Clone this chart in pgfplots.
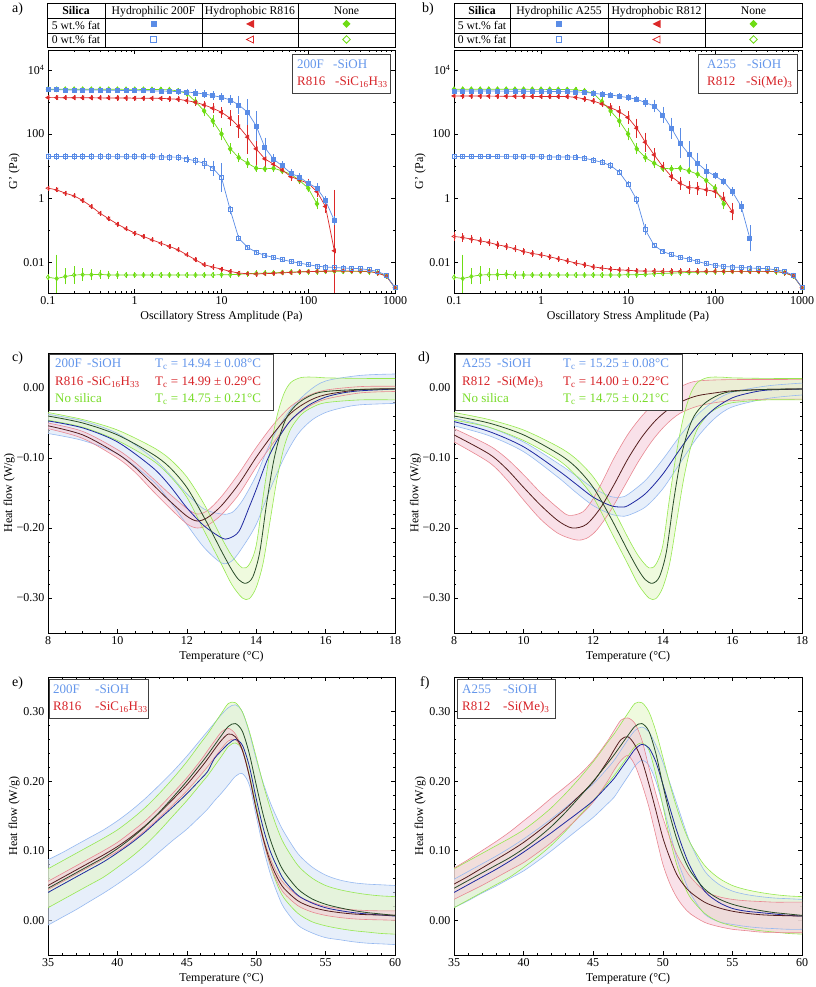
\documentclass[border=0pt]{standalone}
\usepackage{pgfplots}
\usepackage{pgfplotstable}
\pgfplotsset{compat=1.18}
\usepgfplotslibrary{fillbetween}
\usepackage{fontspec}
\setmainfont{Liberation Serif}
\definecolor{cblue}{RGB}{90,140,230}
\definecolor{cred}{RGB}{220,40,40}
\definecolor{cgreen}{RGB}{110,220,20}
\definecolor{tblue}{RGB}{100,150,235}
\definecolor{tred}{RGB}{215,35,40}
\definecolor{tgreen}{RGB}{120,220,40}
\definecolor{eblue}{RGB}{150,185,240}
\definecolor{ered}{RGB}{232,135,145}
\definecolor{egreen}{RGB}{150,232,80}
\definecolor{fblue}{RGB}{215,228,247}
\definecolor{fred}{RGB}{245,205,218}
\definecolor{fgreen}{RGB}{228,247,200}
\definecolor{mblue}{RGB}{30,40,160}
\definecolor{mred}{RGB}{85,30,30}
\definecolor{mgreen}{RGB}{40,75,40}
\newcommand\lf{\fontsize{13}{15}\selectfont}
\newcommand\tf{\fontsize{11.7}{14}\selectfont}

\pgfplotstableread{
x y e
0.1 2400 0.03
0.126 2400 0.03
0.158 2390 0.03
0.2 2380 0.03
0.251 2370 0.03
0.316 2360 0.03
0.398 2350 0.03
0.501 2330 0.03
0.631 2310 0.03
0.794 2290 0.03
1 2270 0.03
1.26 2250 0.03
1.58 2230 0.03
2 2200 0.03
2.51 2170 0.04
3.16 2110 0.05
3.98 2060 0.05
5.01 1930 0.06
6.31 1786 0.07
7.94 1585 0.08
10 1406 0.09
12.6 1161 0.10
15.8 811 0.23
20 479 0.36
25.1 180 0.42
31.6 38 0.26
39.8 16.4 0.12
50.1 10.2 0.10
63.1 6.0 0.08
79.4 4.5 0.08
100 2.94 0.06
126 2.05 0.10
158 0.846 0.08
200 0.20 0.10
}\BFa

\pgfplotstableread{
x y e
0.1 1374 0.03
0.126 1370 0.03
0.158 1365 0.03
0.2 1360 0.03
0.251 1355 0.03
0.316 1350 0.03
0.398 1345 0.03
0.501 1340 0.03
0.631 1335 0.03
0.794 1330 0.03
1 1320 0.03
1.26 1315 0.03
1.58 1310 0.03
2 1300 0.03
2.51 1260 0.04
3.16 1219 0.05
3.98 1107 0.05
5.01 982 0.06
6.31 811 0.08
7.94 638 0.10
10 479 0.12
12.6 312 0.20
15.8 171 0.31
20 80 0.47
25.1 34.5 0.45
31.6 16.8 0.20
39.8 11.5 0.10
50.1 7.6 0.08
63.1 4.7 0.08
79.4 3.7 0.08
100 2.9 0.10
126 1.6 0.12
158 0.55 0.15
200 0.0228 1.85
}\RFa

\pgfplotstableread{
x y e
0.1 2496 0.03
0.126 2496 0.03
0.158 2495 0.03
0.2 2495 0.03
0.251 2494 0.03
0.316 2493 0.03
0.398 2490 0.03
0.501 2488 0.03
0.631 2485 0.03
0.794 2482 0.03
1 2480 0.03
1.26 2470 0.03
1.58 2460 0.03
2 2440 0.03
2.51 2400 0.04
3.16 2213 0.05
3.98 1875 0.06
5.01 1030 0.08
6.31 527 0.12
7.94 257 0.15
10 101 0.15
12.6 34.5 0.12
15.8 18.5 0.10
20 12.3 0.10
25.1 8.6 0.06
31.6 8.2 0.06
39.8 8.6 0.06
50.1 7.1 0.06
63.1 5.6 0.06
79.4 3.56 0.06
100 2.05 0.08
126 0.665 0.12
}\GF

\pgfplotstableread{
x y e
0.1 19.9 0.06
0.126 19.9 0.06
0.158 19.9 0.06
0.2 19.9 0.06
0.251 19.9 0.06
0.316 19.8 0.06
0.398 19.8 0.06
0.501 19.8 0.06
0.631 19.7 0.06
0.794 19.7 0.06
1 19.6 0.06
1.26 19.6 0.06
1.58 19.5 0.06
2 19.4 0.06
2.51 19.2 0.06
3.16 19.0 0.06
3.98 16.8 0.07
5.01 14.6 0.08
6.31 12.3 0.12
7.94 8.6 0.18
10 4.4 0.39
12.6 0.432 0.08
15.8 0.0566 0.04
20 0.029 0.03
25.1 0.0207 0.03
31.6 0.0163 0.03
39.8 0.0142 0.03
50.1 0.012 0.03
63.1 0.0106 0.03
79.4 0.0094 0.03
100 0.0084 0.03
126 0.0076 0.03
158 0.0071 0.03
200 0.0069 0.03
251 0.0066 0.03
316 0.0065 0.03
398 0.0063 0.03
501 0.0058 0.03
631 0.0052 0.03
794 0.0039 0.03
1000 0.0016 0.03
}\BHa

\pgfplotstableread{
x y e
0.1 2.05 0.03
0.126 1.82 0.03
0.158 1.43 0.03
0.2 1.18 0.03
0.251 0.846 0.03
0.316 0.55 0.03
0.398 0.34 0.03
0.501 0.227 0.03
0.631 0.155 0.03
0.794 0.111 0.03
1 0.081 0.03
1.26 0.064 0.03
1.58 0.050 0.03
2 0.0395 0.03
2.51 0.0312 0.03
3.16 0.0245 0.03
3.98 0.0171 0.03
5.01 0.012 0.03
6.31 0.0084 0.03
7.94 0.0071 0.03
10 0.0061 0.03
12.6 0.0052 0.03
15.8 0.0046 0.03
20 0.0044 0.03
25.1 0.0043 0.03
31.6 0.0044 0.03
39.8 0.0045 0.03
50.1 0.0047 0.03
63.1 0.0048 0.03
79.4 0.0050 0.03
100 0.0051 0.03
126 0.0052 0.03
158 0.0053 0.03
200 0.0054 0.03
251 0.0054 0.03
316 0.0053 0.03
398 0.0053 0.03
501 0.0052 0.03
631 0.0046 0.03
794 0.0037 0.03
1000 0.0016 0.03
}\RHa

\pgfplotstableread{
x y e
0.1 0.0034 0.05
0.126 0.0031 0.7
0.158 0.0036 0.2
0.2 0.0040 0.22
0.251 0.0041 0.15
0.316 0.0041 0.12
0.398 0.0042 0.10
0.501 0.0040 0.08
0.631 0.0040 0.06
0.794 0.0040 0.05
1 0.0040 0.04
1.26 0.0040 0.04
1.58 0.0040 0.04
2 0.0040 0.04
2.51 0.0040 0.04
3.16 0.0040 0.04
3.98 0.0040 0.04
5.01 0.0040 0.04
6.31 0.0040 0.04
7.94 0.0040 0.04
10 0.0041 0.04
12.6 0.0041 0.04
15.8 0.0042 0.04
20 0.0044 0.04
25.1 0.0045 0.04
31.6 0.0046 0.04
39.8 0.0047 0.04
50.1 0.0048 0.04
63.1 0.0049 0.04
79.4 0.0050 0.04
100 0.0051 0.04
126 0.0051 0.04
158 0.0052 0.04
200 0.0052 0.04
251 0.0052 0.04
316 0.0052 0.04
398 0.0052 0.04
501 0.0051 0.04
631 0.0047 0.04
794 0.0037 0.04
1000 0.0016 0.04
}\GH

\pgfplotstableread{
x y e
0.1 2213 0.03
0.126 2210 0.03
0.158 2205 0.03
0.2 2200 0.03
0.251 2195 0.03
0.316 2190 0.03
0.398 2180 0.03
0.501 2170 0.03
0.631 2160 0.03
0.794 2155 0.03
1 2150 0.03
1.26 2140 0.03
1.58 2120 0.03
2 2100 0.03
2.51 2060 0.03
3.16 2012 0.04
3.98 1875 0.04
5.01 1746 0.05
6.31 1665 0.05
7.94 1512 0.05
10 1374 0.05
12.6 1219 0.05
15.8 960 0.08
20 755 0.15
25.1 396 0.20
31.6 152 0.28
39.8 51.8 0.42
50.1 23.5 0.36
63.1 12.3 0.28
79.4 7.1 0.18
100 4.97 0.06
126 3.3 0.06
158 1.6 0.10
200 0.55 0.12
251 0.0566 0.36
}\BFb

\pgfplotstableread{
x y e
0.1 1548 0.03
0.126 1545 0.03
0.158 1540 0.03
0.2 1535 0.03
0.251 1530 0.03
0.316 1525 0.03
0.398 1520 0.03
0.501 1512 0.03
0.631 1505 0.03
0.794 1498 0.03
1 1490 0.03
1.26 1485 0.03
1.58 1480 0.03
2 1476 0.03
2.51 1400 0.04
3.16 1248 0.04
3.98 1081 0.05
5.01 871 0.05
6.31 670 0.08
7.94 503 0.12
10 327 0.15
12.6 152 0.25
15.8 55.6 0.25
20 22.4 0.15
25.1 9.7 0.10
31.6 4.7 0.10
39.8 2.94 0.15
50.1 2.15 0.15
63.1 2.05 0.15
79.4 1.82 0.15
100 1.61 0.15
126 0.95 0.18
158 0.38 0.22
}\RFb

\pgfplotstableread{
x y e
0.1 19.9 0.04
0.126 19.9 0.04
0.158 19.9 0.04
0.2 19.9 0.04
0.251 19.9 0.04
0.316 19.8 0.04
0.398 19.8 0.04
0.501 19.7 0.04
0.631 19.7 0.04
0.794 19.6 0.04
1 19.5 0.04
1.26 19.4 0.04
1.58 19.3 0.04
2 19.2 0.04
2.51 19.0 0.04
3.16 17.7 0.04
3.98 15.3 0.04
5.01 13.2 0.04
6.31 10.4 0.05
7.94 6.45 0.05
10 2.73 0.05
12.6 0.887 0.08
15.8 0.103 0.12
20 0.0335 0.04
25.1 0.0218 0.03
31.6 0.0171 0.03
39.8 0.0142 0.03
50.1 0.0126 0.03
63.1 0.0106 0.03
79.4 0.009 0.03
100 0.008 0.03
126 0.0074 0.03
158 0.0071 0.03
200 0.0069 0.03
251 0.0066 0.03
316 0.0065 0.03
398 0.0063 0.03
501 0.0058 0.03
631 0.0052 0.03
794 0.0039 0.03
1000 0.0016 0.03
}\BHb

\pgfplotstableread{
x y e
0.1 0.0639 0.08
0.126 0.0594 0.08
0.158 0.0528 0.08
0.2 0.0468 0.08
0.251 0.0415 0.07
0.316 0.0351 0.07
0.398 0.0312 0.07
0.501 0.0264 0.06
0.631 0.0218 0.06
0.794 0.0188 0.05
1 0.0171 0.05
1.26 0.0148 0.05
1.58 0.0128 0.04
2 0.0111 0.04
2.51 0.0094 0.04
3.16 0.0084 0.04
3.98 0.0072 0.04
5.01 0.0066 0.04
6.31 0.0061 0.04
7.94 0.0058 0.04
10 0.0056 0.04
12.6 0.0054 0.04
15.8 0.0053 0.04
20 0.0053 0.04
25.1 0.0052 0.04
31.6 0.0052 0.04
39.8 0.0052 0.04
50.1 0.0052 0.04
63.1 0.0052 0.04
79.4 0.0052 0.04
100 0.0052 0.04
126 0.0052 0.04
158 0.0052 0.04
200 0.0052 0.04
251 0.0052 0.04
316 0.0052 0.04
398 0.0052 0.04
501 0.0052 0.04
631 0.0047 0.04
794 0.0038 0.04
1000 0.0016 0.04
}\RHb

\pgfplotsset{
  every axis/.append style={
    tick label style={font=\fontsize{12}{14}\selectfont},
    label style={font=\fontsize{12}{14}\selectfont},
    axis line style={line width=0.7pt},
    major tick length=4pt, minor tick length=2pt,
    tick style={line width=0.5pt, black},
  },
}
\newcommand\EP{\thisrow{y}*(10^(\thisrow{e})-1)}
\newcommand\EM{\thisrow{y}*(1-10^(-\thisrow{e}))}

\begin{document}
\begin{tikzpicture}[x=1pt,y=1pt]
\path (0,0) rectangle (815,987);

% ---------- a ----------
\begin{axis}[at={(48pt,694pt)}, anchor=south west, scale only axis, width=347pt, height=243pt,
    xmode=log, ymode=log, xmin=0.1, xmax=1000, ymin=0.0011, ymax=42000,
    xtick={0.1,1,10,100,1000}, xticklabels={0.1,1,10,100,1000},
    ytick={0.01,1,100,10000}, yticklabels={0.01,1,100,10\textsuperscript{4}},
    minor ytick={0.001,0.1,10,1000},
    xlabel={Oscillatory Stress Amplitude (Pa)}, ylabel={G' (Pa)}, ylabel shift=-3pt,
    error bars/y dir=both, error bars/y explicit,
    error bars/error bar style={line width=0.5pt},
    error bars/error mark options={mark size=1.6pt, line width=0.5pt}]
\addplot[color=cgreen, line width=0.7pt, mark size=2.2pt, mark=diamond, mark options={fill=white}] table[x=x,y=y,y error plus expr=\EP,y error minus expr=\EM] {\GH};
\addplot[color=cred, line width=0.7pt, mark size=2pt, mark=triangle, mark options={rotate=90, fill=white}] table[x=x,y=y,y error plus expr=\EP,y error minus expr=\EM] {\RHa};
\addplot[color=cblue, line width=0.7pt, mark size=2pt, mark=square, mark options={fill=white}] table[x=x,y=y,y error plus expr=\EP,y error minus expr=\EM] {\BHa};
\addplot[color=cgreen, line width=0.7pt, mark size=2.5pt, mark=diamond*] table[x=x,y=y,y error plus expr=\EP,y error minus expr=\EM] {\GF};
\addplot[color=cred, line width=0.7pt, mark size=2.2pt, mark=triangle*, mark options={rotate=90}] table[x=x,y=y,y error plus expr=\EP,y error minus expr=\EM] {\RFa};
\addplot[color=cblue, line width=0.7pt, mark size=2pt, mark=square*] table[x=x,y=y,y error plus expr=\EP,y error minus expr=\EM] {\BFa};
\end{axis}

% ---------- b ----------
\begin{axis}[at={(454pt,694pt)}, anchor=south west, scale only axis, width=348pt, height=243pt,
    xmode=log, ymode=log, xmin=0.1, xmax=1000, ymin=0.0011, ymax=42000,
    xtick={0.1,1,10,100,1000}, xticklabels={0.1,1,10,100,1000},
    ytick={0.01,1,100,10000}, yticklabels={0.01,1,100,10\textsuperscript{4}},
    minor ytick={0.001,0.1,10,1000},
    xlabel={Oscillatory Stress Amplitude (Pa)}, ylabel={G' (Pa)}, ylabel shift=-3pt,
    error bars/y dir=both, error bars/y explicit,
    error bars/error bar style={line width=0.5pt},
    error bars/error mark options={mark size=1.6pt, line width=0.5pt}]
\addplot[color=cgreen, line width=0.7pt, mark size=2.2pt, mark=diamond, mark options={fill=white}] table[x=x,y=y,y error plus expr=\EP,y error minus expr=\EM] {\GH};
\addplot[color=cred, line width=0.7pt, mark size=2pt, mark=triangle, mark options={rotate=90, fill=white}] table[x=x,y=y,y error plus expr=\EP,y error minus expr=\EM] {\RHb};
\addplot[color=cblue, line width=0.7pt, mark size=2pt, mark=square, mark options={fill=white}] table[x=x,y=y,y error plus expr=\EP,y error minus expr=\EM] {\BHb};
\addplot[color=cgreen, line width=0.7pt, mark size=2.5pt, mark=diamond*] table[x=x,y=y,y error plus expr=\EP,y error minus expr=\EM] {\GF};
\addplot[color=cred, line width=0.7pt, mark size=2.2pt, mark=triangle*, mark options={rotate=90}] table[x=x,y=y,y error plus expr=\EP,y error minus expr=\EM] {\RFb};
\addplot[color=cblue, line width=0.7pt, mark size=2pt, mark=square*] table[x=x,y=y,y error plus expr=\EP,y error minus expr=\EM] {\BFb};
\end{axis}

% ---------- c ----------
\begin{axis}[at={(48pt,354pt)}, anchor=south west, scale only axis, width=347pt, height=280pt,
    xmin=8, xmax=18, ymin=-0.35, ymax=0.05,
    xtick={8,10,12,14,16,18}, xticklabels={8,10,12,14,16,18},
    ytick={-0.3,-0.2,-0.1,0}, yticklabels={−0.30,−0.20,−0.10,0.00},
    minor x tick num=3, minor y tick num=4,
    xlabel={Temperature (°C)}, ylabel={Heat flow (W/g)}, ylabel shift=-5pt]
\addplot[color=eblue, line width=0.6pt, smooth, tension=0.5, name path=cbu] coordinates {(8,-0.0375) (9,-0.047) (10,-0.065) (11,-0.099) (11.5,-0.123) (12,-0.151) (12.5,-0.173) (13,-0.180) (13.3,-0.178) (13.6,-0.161) (14,-0.125) (14.3,-0.090) (14.6,-0.060) (15,-0.030) (15.5,-0.005) (16,0.010) (17,0.018) (18,0.020)};
\addplot[color=eblue, line width=0.6pt, smooth, tension=0.5, name path=cbl] coordinates {(8,-0.065) (9,-0.075) (10,-0.094) (11,-0.132) (11.5,-0.161) (12,-0.195) (12.5,-0.228) (13,-0.250) (13.3,-0.247) (13.6,-0.228) (14,-0.195) (14.4,-0.145) (14.8,-0.100) (15.2,-0.066) (15.6,-0.046) (16,-0.035) (16.5,-0.028) (17,-0.024) (18,-0.022)};
\addplot[fill=fblue, fill opacity=0.6, draw=none] fill between[of=cbu and cbl];
\addplot[color=ered, line width=0.6pt, smooth, tension=0.5, name path=cru] coordinates {(8,-0.050) (9,-0.062) (10,-0.088) (10.5,-0.106) (11,-0.128) (11.5,-0.151) (12,-0.172) (12.3,-0.180) (12.6,-0.175) (13,-0.155) (13.5,-0.122) (14,-0.085) (14.5,-0.052) (15,-0.026) (15.5,-0.011) (16,-0.003) (17,0.002) (18,0.0025)};
\addplot[color=ered, line width=0.6pt, smooth, tension=0.5, name path=crl] coordinates {(8,-0.058) (9,-0.072) (10,-0.100) (10.5,-0.120) (11,-0.146) (11.5,-0.171) (12,-0.194) (12.3,-0.200) (12.6,-0.196) (13,-0.181) (13.5,-0.152) (14,-0.113) (14.5,-0.078) (15,-0.046) (15.5,-0.027) (16,-0.016) (17,-0.007) (18,-0.005)};
\addplot[fill=fred, fill opacity=0.6, draw=none] fill between[of=cru and crl];
\addplot[color=egreen, line width=0.6pt, smooth, tension=0.5, name path=cgu] coordinates {(8,-0.035) (9,-0.045) (10,-0.060) (11,-0.084) (11.5,-0.101) (12,-0.127) (12.5,-0.166) (13,-0.214) (13.3,-0.240) (13.6,-0.257) (13.8,-0.252) (14,-0.225) (14.2,-0.155) (14.4,-0.090) (14.6,-0.040) (14.8,-0.008) (15,0.008) (15.3,0.015) (15.7,0.0155) (16,0.0145) (17,0.0137) (18,0.0135)};
\addplot[color=egreen, line width=0.6pt, smooth, tension=0.5, name path=cgl] coordinates {(8,-0.046) (9,-0.056) (10,-0.075) (11,-0.103) (11.5,-0.125) (12,-0.156) (12.5,-0.204) (13,-0.252) (13.3,-0.281) (13.6,-0.300) (13.8,-0.301) (14,-0.285) (14.2,-0.250) (14.4,-0.190) (14.6,-0.130) (14.8,-0.085) (15,-0.058) (15.3,-0.038) (15.6,-0.028) (16,-0.021) (17,-0.017) (18,-0.017)};
\addplot[fill=fgreen, fill opacity=0.6, draw=none] fill between[of=cgu and cgl];
\addplot[color=mblue, line width=0.8pt, smooth, tension=0.5] coordinates {(8,-0.047) (9,-0.057) (10,-0.077) (11,-0.113) (11.5,-0.139) (12,-0.171) (12.5,-0.197) (13,-0.214) (13.2,-0.215) (13.5,-0.205) (13.8,-0.170) (14,-0.145) (14.3,-0.105) (14.6,-0.075) (15,-0.046) (15.5,-0.025) (16,-0.013) (16.5,-0.007) (17,-0.004) (18,-0.0015)};
\addplot[color=mred, line width=0.8pt, smooth, tension=0.5] coordinates {(8,-0.054) (9,-0.067) (10,-0.094) (10.5,-0.113) (11,-0.137) (11.5,-0.161) (12,-0.183) (12.3,-0.190) (12.6,-0.185) (13,-0.168) (13.5,-0.137) (14,-0.099) (14.5,-0.065) (15,-0.036) (15.5,-0.019) (16,-0.0096) (17,-0.0024) (18,-0.001)};
\addplot[color=mgreen, line width=0.8pt, smooth, tension=0.5] coordinates {(8,-0.040) (9,-0.050) (10,-0.067) (11,-0.094) (11.5,-0.113) (12,-0.142) (12.5,-0.185) (13,-0.233) (13.3,-0.260) (13.5,-0.274) (13.7,-0.279) (13.9,-0.270) (14.1,-0.235) (14.3,-0.165) (14.5,-0.105) (14.7,-0.065) (14.9,-0.040) (15.2,-0.022) (15.6,-0.010) (16,-0.005) (17,-0.002) (18,-0.0015)};
\end{axis}

% ---------- d ----------
\begin{axis}[at={(454pt,354pt)}, anchor=south west, scale only axis, width=348pt, height=280pt,
    xmin=8, xmax=18, ymin=-0.35, ymax=0.05,
    xtick={8,10,12,14,16,18}, xticklabels={8,10,12,14,16,18},
    ytick={-0.3,-0.2,-0.1,0}, yticklabels={−0.30,−0.20,−0.10,0.00},
    minor x tick num=3, minor y tick num=4,
    xlabel={Temperature (°C)}, ylabel={Heat flow (W/g)}, ylabel shift=-5pt]
\addplot[color=eblue, line width=0.6pt, smooth, tension=0.5, name path=dbu] coordinates {(8,-0.043) (9,-0.056) (10,-0.077) (11,-0.108) (11.5,-0.125) (12,-0.143) (12.5,-0.155) (12.8,-0.156) (13,-0.152) (13.5,-0.132) (14,-0.102) (14.5,-0.068) (15,-0.038) (15.5,-0.018) (16,-0.006) (17,0.003) (18,0.007)};
\addplot[color=eblue, line width=0.6pt, smooth, tension=0.5, name path=dbl] coordinates {(8,-0.054) (9,-0.068) (10,-0.091) (11,-0.128) (11.5,-0.149) (12,-0.168) (12.5,-0.180) (12.8,-0.183) (13,-0.182) (13.5,-0.170) (14,-0.144) (14.5,-0.107) (15,-0.070) (15.5,-0.043) (16,-0.027) (17,-0.015) (18,-0.010)};
\addplot[fill=fblue, fill opacity=0.6, draw=none] fill between[of=dbu and dbl];
\addplot[color=ered, line width=0.6pt, smooth, tension=0.5, name path=dru] coordinates {(8,-0.058) (9,-0.082) (9.5,-0.100) (10,-0.124) (10.5,-0.150) (11,-0.172) (11.3,-0.182) (11.7,-0.177) (12,-0.158) (12.3,-0.130) (12.6,-0.100) (13,-0.066) (13.4,-0.040) (13.8,-0.020) (14.2,-0.006) (14.6,0.004) (15,0.010) (16,0.012) (18,0.012)};
\addplot[color=ered, line width=0.6pt, smooth, tension=0.5, name path=drl] coordinates {(8,-0.077) (9,-0.106) (9.5,-0.130) (10,-0.160) (10.5,-0.188) (11,-0.208) (11.5,-0.217) (11.8,-0.215) (12.1,-0.203) (12.5,-0.175) (12.9,-0.140) (13.3,-0.105) (13.7,-0.075) (14.1,-0.052) (14.5,-0.036) (15,-0.026) (15.5,-0.021) (16,-0.018) (17,-0.016) (18,-0.016)};
\addplot[fill=fred, fill opacity=0.6, draw=none] fill between[of=dru and drl];
\addplot[color=egreen, line width=0.6pt, smooth, tension=0.5, name path=dgu] coordinates {(8,-0.035) (9,-0.045) (10,-0.060) (11,-0.084) (11.5,-0.101) (12,-0.127) (12.5,-0.166) (13,-0.214) (13.3,-0.240) (13.6,-0.257) (13.8,-0.252) (14,-0.225) (14.2,-0.155) (14.4,-0.090) (14.6,-0.040) (14.8,-0.008) (15,0.008) (15.3,0.015) (15.7,0.0155) (16,0.0145) (17,0.0137) (18,0.0135)};
\addplot[color=egreen, line width=0.6pt, smooth, tension=0.5, name path=dgl] coordinates {(8,-0.046) (9,-0.056) (10,-0.075) (11,-0.103) (11.5,-0.125) (12,-0.156) (12.5,-0.204) (13,-0.252) (13.3,-0.281) (13.6,-0.300) (13.8,-0.301) (14,-0.285) (14.2,-0.250) (14.4,-0.190) (14.6,-0.130) (14.8,-0.085) (15,-0.058) (15.3,-0.038) (15.6,-0.028) (16,-0.021) (17,-0.017) (18,-0.017)};
\addplot[fill=fgreen, fill opacity=0.6, draw=none] fill between[of=dgu and dgl];
\addplot[color=mblue, line width=0.8pt, smooth, tension=0.5] coordinates {(8,-0.048) (9,-0.062) (10,-0.084) (11,-0.118) (11.5,-0.137) (12,-0.156) (12.5,-0.168) (12.8,-0.170) (13,-0.168) (13.5,-0.151) (14,-0.123) (14.5,-0.087) (15,-0.053) (15.5,-0.029) (16,-0.014) (16.5,-0.007) (17,-0.003) (18,-0.0015)};
\addplot[color=mred, line width=0.8pt, smooth, tension=0.5] coordinates {(8,-0.067) (9,-0.094) (9.5,-0.115) (10,-0.142) (10.5,-0.168) (11,-0.190) (11.4,-0.200) (11.8,-0.195) (12.2,-0.172) (12.6,-0.138) (13,-0.101) (13.4,-0.070) (13.8,-0.046) (14.2,-0.029) (14.6,-0.018) (15,-0.011) (15.5,-0.007) (16,-0.004) (17,-0.002) (18,-0.0015)};
\addplot[color=mgreen, line width=0.8pt, smooth, tension=0.5] coordinates {(8,-0.040) (9,-0.050) (10,-0.067) (11,-0.094) (11.5,-0.113) (12,-0.142) (12.5,-0.185) (13,-0.233) (13.3,-0.260) (13.5,-0.274) (13.7,-0.279) (13.9,-0.270) (14.1,-0.235) (14.3,-0.165) (14.5,-0.105) (14.7,-0.065) (14.9,-0.040) (15.2,-0.022) (15.6,-0.010) (16,-0.005) (17,-0.002) (18,-0.0015)};
\end{axis}

% ---------- e ----------
\begin{axis}[at={(48pt,32pt)}, anchor=south west, scale only axis, width=347pt, height=278pt,
    xmin=35, xmax=60, ymin=-0.05, ymax=0.35,
    xtick={35,40,45,50,55,60}, xticklabels={35,40,45,50,55,60},
    ytick={0,0.1,0.2,0.3}, yticklabels={0.00,0.10,0.20,0.30},
    minor x tick num=4, minor y tick num=4,
    xlabel={Temperature (°C)}, ylabel={Heat flow (W/g)}, ylabel shift=-3pt]
\addplot[color=eblue, line width=0.6pt, smooth, tension=0.5, name path=ebu] coordinates {(35,0.087) (36,0.097) (37,0.108) (38,0.119) (39,0.130) (40,0.143) (41,0.158) (42,0.175) (43,0.194) (44,0.214) (45,0.236) (46,0.260) (46.5,0.272) (47,0.284) (47.5,0.296) (48,0.306) (48.5,0.310) (49,0.300) (49.5,0.270) (50,0.232) (50.5,0.198) (51,0.170) (51.5,0.147) (52,0.127) (53,0.096) (54,0.077) (55,0.065) (56,0.058) (57,0.054) (58,0.052) (59,0.051) (60,0.050)};
\addplot[color=eblue, line width=0.6pt, smooth, tension=0.5, name path=ebl] coordinates {(35,-0.007) (36,0.004) (37,0.015) (38,0.027) (39,0.039) (40,0.052) (41,0.066) (42,0.081) (43,0.098) (44,0.115) (45,0.131) (46,0.150) (46.5,0.160) (47,0.172) (47.5,0.183) (48,0.195) (48.5,0.207) (49,0.211) (49.5,0.195) (50,0.150) (50.5,0.105) (51,0.068) (51.5,0.040) (52,0.018) (53,-0.007) (54,-0.018) (55,-0.025) (56,-0.028) (57,-0.031) (58,-0.033) (59,-0.034) (60,-0.035)};
\addplot[fill=fblue, fill opacity=0.6, draw=none] fill between[of=ebu and ebl];
\addplot[color=egreen, line width=0.6pt, smooth, tension=0.5, name path=egu] coordinates {(35,0.074) (36,0.085) (37,0.096) (38,0.107) (39,0.118) (40,0.130) (41,0.145) (42,0.162) (43,0.182) (44,0.204) (45,0.228) (46,0.255) (46.5,0.268) (47,0.283) (47.5,0.298) (48,0.312) (48.5,0.313) (49,0.300) (49.5,0.272) (50,0.235) (50.5,0.196) (51,0.162) (51.5,0.133) (52,0.110) (53,0.079) (54,0.061) (55,0.050) (56,0.044) (57,0.040) (58,0.037) (59,0.035) (60,0.034)};
\addplot[color=egreen, line width=0.6pt, smooth, tension=0.5, name path=egl] coordinates {(35,0.018) (36,0.029) (37,0.040) (38,0.051) (39,0.062) (40,0.076) (41,0.091) (42,0.108) (43,0.128) (44,0.150) (45,0.172) (46,0.196) (46.5,0.208) (47,0.222) (47.5,0.236) (48,0.250) (48.5,0.255) (49,0.245) (49.5,0.210) (50,0.165) (50.5,0.118) (51,0.080) (51.5,0.052) (52,0.032) (53,0.010) (54,-0.002) (55,-0.008) (56,-0.012) (57,-0.015) (58,-0.017) (59,-0.019) (60,-0.020)};
\addplot[fill=fgreen, fill opacity=0.6, draw=none] fill between[of=egu and egl];
\addplot[color=ered, line width=0.6pt, smooth, tension=0.5, name path=eru] coordinates {(35,0.056) (36,0.067) (37,0.078) (38,0.089) (39,0.100) (40,0.112) (41,0.127) (42,0.143) (43,0.162) (44,0.183) (45,0.205) (46,0.230) (46.5,0.244) (47,0.258) (47.5,0.271) (48,0.276) (48.5,0.268) (49,0.246) (49.5,0.207) (50,0.160) (50.5,0.120) (51,0.090) (51.5,0.068) (52,0.053) (53,0.035) (54,0.026) (55,0.020) (56,0.017) (57,0.015) (58,0.014) (59,0.0135) (60,0.0135)};
\addplot[color=ered, line width=0.6pt, smooth, tension=0.5, name path=erl] coordinates {(35,0.044) (36,0.055) (37,0.066) (38,0.077) (39,0.088) (40,0.099) (41,0.113) (42,0.129) (43,0.147) (44,0.166) (45,0.186) (46,0.209) (46.5,0.221) (47,0.234) (47.5,0.247) (48,0.258) (48.5,0.260) (49,0.244) (49.5,0.208) (50,0.159) (50.5,0.115) (51,0.080) (51.5,0.056) (52,0.039) (53,0.021) (54,0.012) (55,0.007) (56,0.004) (57,0.002) (58,0.001) (59,0.0005) (60,0.000)};
\addplot[fill=fred, fill opacity=0.6, draw=none] fill between[of=eru and erl];
\addplot[color=mblue, line width=0.8pt, smooth, tension=0.5] coordinates {(35,0.040) (36,0.051) (37,0.062) (38,0.073) (39,0.084) (40,0.097) (41,0.111) (42,0.127) (43,0.145) (44,0.163) (45,0.182) (46,0.203) (46.5,0.214) (47,0.233) (47.5,0.244) (48,0.254) (48.5,0.260) (49,0.252) (49.5,0.222) (50,0.175) (50.5,0.133) (51,0.100) (51.5,0.077) (52,0.058) (53,0.036) (54,0.025) (55,0.018) (56,0.014) (57,0.011) (58,0.009) (59,0.0075) (60,0.006)};
\addplot[color=mred, line width=0.8pt, smooth, tension=0.5] coordinates {(35,0.050) (36,0.061) (37,0.072) (38,0.083) (39,0.094) (40,0.106) (41,0.120) (42,0.136) (43,0.154) (44,0.174) (45,0.195) (46,0.219) (46.5,0.232) (47,0.246) (47.5,0.259) (48,0.268) (48.5,0.264) (49,0.245) (49.5,0.208) (50,0.160) (50.5,0.118) (51,0.085) (51.5,0.062) (52,0.046) (53,0.028) (54,0.019) (55,0.014) (56,0.011) (57,0.009) (58,0.008) (59,0.0075) (60,0.007)};
\addplot[color=mgreen, line width=0.8pt, smooth, tension=0.5] coordinates {(35,0.046) (36,0.057) (37,0.068) (38,0.079) (39,0.090) (40,0.103) (41,0.118) (42,0.135) (43,0.155) (44,0.177) (45,0.200) (46,0.225) (46.5,0.238) (47,0.252) (47.5,0.266) (48,0.279) (48.5,0.283) (49,0.272) (49.5,0.240) (50,0.195) (50.5,0.152) (51,0.117) (51.5,0.090) (52,0.070) (53,0.045) (54,0.031) (55,0.023) (56,0.018) (57,0.014) (58,0.011) (59,0.009) (60,0.007)};
\end{axis}

% ---------- f ----------
\begin{axis}[at={(454pt,32pt)}, anchor=south west, scale only axis, width=348pt, height=278pt,
    xmin=35, xmax=60, ymin=-0.05, ymax=0.35,
    xtick={35,40,45,50,55,60}, xticklabels={35,40,45,50,55,60},
    ytick={0,0.1,0.2,0.3}, yticklabels={0.00,0.10,0.20,0.30},
    minor x tick num=4, minor y tick num=4,
    xlabel={Temperature (°C)}, ylabel={Heat flow (W/g)}, ylabel shift=-3pt]
\addplot[color=eblue, line width=0.6pt, smooth, tension=0.5, name path=fbu] coordinates {(35,0.059) (36,0.070) (37,0.081) (38,0.092) (39,0.104) (40,0.117) (41,0.131) (42,0.146) (43,0.162) (44,0.179) (45,0.196) (46,0.218) (46.5,0.230) (47,0.245) (47.5,0.260) (48,0.273) (48.5,0.278) (49,0.271) (49.5,0.252) (50,0.228) (50.5,0.198) (51,0.168) (51.5,0.138) (52,0.110) (53,0.071) (54,0.052) (55,0.042) (56,0.037) (57,0.034) (58,0.032) (59,0.031) (60,0.030)};
\addplot[color=eblue, line width=0.6pt, smooth, tension=0.5, name path=fbl] coordinates {(35,0.018) (36,0.028) (37,0.039) (38,0.049) (39,0.060) (40,0.071) (41,0.085) (42,0.100) (43,0.116) (44,0.132) (45,0.148) (46,0.167) (46.5,0.177) (47,0.192) (47.5,0.207) (48,0.222) (48.5,0.230) (49,0.223) (49.5,0.200) (50,0.166) (50.5,0.128) (51,0.090) (51.5,0.062) (52,0.038) (53,0.009) (54,-0.002) (55,-0.006) (56,-0.009) (57,-0.011) (58,-0.012) (59,-0.013) (60,-0.013)};
\addplot[fill=fblue, fill opacity=0.6, draw=none] fill between[of=fbu and fbl];
\addplot[color=egreen, line width=0.6pt, smooth, tension=0.5, name path=fgu] coordinates {(35,0.074) (36,0.085) (37,0.096) (38,0.107) (39,0.118) (40,0.130) (41,0.145) (42,0.162) (43,0.182) (44,0.204) (45,0.228) (46,0.255) (46.5,0.268) (47,0.283) (47.5,0.298) (48,0.312) (48.5,0.313) (49,0.300) (49.5,0.272) (50,0.235) (50.5,0.196) (51,0.162) (51.5,0.133) (52,0.110) (53,0.079) (54,0.061) (55,0.050) (56,0.044) (57,0.040) (58,0.037) (59,0.035) (60,0.034)};
\addplot[color=egreen, line width=0.6pt, smooth, tension=0.5, name path=fgl] coordinates {(35,0.018) (36,0.029) (37,0.040) (38,0.051) (39,0.062) (40,0.076) (41,0.091) (42,0.108) (43,0.128) (44,0.150) (45,0.172) (46,0.196) (46.5,0.208) (47,0.222) (47.5,0.236) (48,0.250) (48.5,0.255) (49,0.245) (49.5,0.210) (50,0.165) (50.5,0.118) (51,0.080) (51.5,0.052) (52,0.032) (53,0.010) (54,-0.002) (55,-0.008) (56,-0.012) (57,-0.015) (58,-0.017) (59,-0.019) (60,-0.020)};
\addplot[fill=fgreen, fill opacity=0.6, draw=none] fill between[of=fgu and fgl];
\addplot[color=ered, line width=0.6pt, smooth, tension=0.5, name path=fru] coordinates {(35,0.075) (36,0.087) (37,0.100) (38,0.113) (39,0.127) (40,0.143) (41,0.159) (42,0.176) (43,0.192) (44,0.209) (45,0.230) (46,0.257) (46.5,0.273) (47,0.288) (47.5,0.291) (48,0.283) (48.5,0.259) (49,0.220) (49.5,0.182) (50,0.148) (50.5,0.119) (51,0.095) (51.5,0.077) (52,0.062) (53,0.042) (54,0.034) (55,0.030) (56,0.028) (57,0.027) (58,0.026) (59,0.026) (60,0.026)};
\addplot[color=ered, line width=0.6pt, smooth, tension=0.5, name path=frl] coordinates {(35,0.030) (36,0.040) (37,0.050) (38,0.061) (39,0.072) (40,0.083) (41,0.097) (42,0.112) (43,0.130) (44,0.149) (45,0.170) (46,0.199) (46.5,0.216) (47,0.230) (47.5,0.237) (48,0.223) (48.5,0.196) (49,0.163) (49.5,0.122) (50,0.081) (50.5,0.053) (51,0.033) (51.5,0.019) (52,0.009) (53,-0.003) (54,-0.009) (55,-0.013) (56,-0.015) (57,-0.017) (58,-0.0175) (59,-0.018) (60,-0.018)};
\addplot[fill=fred, fill opacity=0.6, draw=none] fill between[of=fru and frl];
\addplot[color=mblue, line width=0.8pt, smooth, tension=0.5] coordinates {(35,0.040) (36,0.051) (37,0.062) (38,0.073) (39,0.085) (40,0.098) (41,0.112) (42,0.126) (43,0.141) (44,0.156) (45,0.172) (46,0.193) (46.5,0.204) (47,0.218) (47.5,0.232) (48,0.246) (48.5,0.253) (49,0.248) (49.5,0.228) (50,0.196) (50.5,0.162) (51,0.129) (51.5,0.100) (52,0.076) (53,0.042) (54,0.026) (55,0.017) (56,0.013) (57,0.011) (58,0.009) (59,0.007) (60,0.006)};
\addplot[color=mred, line width=0.8pt, smooth, tension=0.5] coordinates {(35,0.052) (36,0.063) (37,0.075) (38,0.087) (39,0.099) (40,0.112) (41,0.127) (42,0.143) (43,0.160) (44,0.179) (45,0.199) (46,0.228) (46.5,0.245) (47,0.260) (47.5,0.264) (48,0.252) (48.5,0.230) (49,0.196) (49.5,0.158) (50,0.119) (50.5,0.090) (51,0.066) (51.5,0.051) (52,0.040) (53,0.026) (54,0.018) (55,0.013) (56,0.010) (57,0.008) (58,0.007) (59,0.0065) (60,0.006)};
\addplot[color=mgreen, line width=0.8pt, smooth, tension=0.5] coordinates {(35,0.046) (36,0.057) (37,0.068) (38,0.079) (39,0.090) (40,0.103) (41,0.118) (42,0.135) (43,0.155) (44,0.177) (45,0.200) (46,0.225) (46.5,0.238) (47,0.252) (47.5,0.266) (48,0.279) (48.5,0.283) (49,0.272) (49.5,0.240) (50,0.195) (50.5,0.152) (51,0.117) (51.5,0.090) (52,0.070) (53,0.045) (54,0.031) (55,0.023) (56,0.018) (57,0.014) (58,0.011) (59,0.009) (60,0.007)};
\end{axis}

% ---------- tables ----------
\foreach \L/\A/\B/\C/\R/\ta/\tb in {47/105/202/298/395/Hydrophilic 200F/Hydrophobic R816, 454/510/608/705/802/Hydrophilic A255/Hydrophobic R812}{
  \draw[line width=0.9pt] (\L,984) rectangle (\R,940);
  \draw[line width=0.6pt] (\L,969) -- (\R,969) (\L,954) -- (\R,954) (\A,984) -- (\A,940) (\B,984) -- (\B,940) (\C,984) -- (\C,940);
  \node[anchor=base, font=\tf\bfseries, inner sep=0] at ({(\L+\A)/2},972.7) {Silica};
  \node[anchor=base, font=\tf, inner sep=0] at ({(\A+\B)/2},972.7) {\ta};
  \node[anchor=base, font=\tf, inner sep=0] at ({(\B+\C)/2},972.7) {\tb};
  \node[anchor=base, font=\tf, inner sep=0] at ({(\C+\R)/2},972.7) {None};
  \node[anchor=base, font=\tf, inner sep=0] at ({(\L+\A)/2},957.8) {5 wt.\% fat};
  \node[anchor=base, font=\tf, inner sep=0] at ({(\L+\A)/2},943.2) {0 wt.\% fat};
  \fill[cblue] ({(\A+\B)/2-3},960) rectangle ({(\A+\B)/2+3},966);
  \draw[cblue, line width=0.8pt] ({(\A+\B)/2-2.7},944.8) rectangle ({(\A+\B)/2+2.7},950.2);
  \fill[cred] ({(\B+\C)/2-4},963) -- ({(\B+\C)/2+4},967) -- ({(\B+\C)/2+4},959) -- cycle;
  \draw[cred, line width=0.8pt] ({(\B+\C)/2-3.5},947.5) -- ({(\B+\C)/2+3.5},951) -- ({(\B+\C)/2+3.5},944) -- cycle;
  \fill[cgreen] ({(\C+\R)/2},967) -- ({(\C+\R)/2+4},963) -- ({(\C+\R)/2},959) -- ({(\C+\R)/2-4},963) -- cycle;
  \draw[cgreen, line width=0.8pt] ({(\C+\R)/2},951.3) -- ({(\C+\R)/2+3.8},947.5) -- ({(\C+\R)/2},943.7) -- ({(\C+\R)/2-3.8},947.5) -- cycle;
}

% ---------- legends ----------
\tikzset{lg/.style={anchor=base west, font=\lf, inner sep=0}}
\draw[line width=0.7pt, black!75, fill=white] (292,933) rectangle (390,894);
\node[lg, text=tblue] at (297,918) {200F};
\node[lg, text=tblue] at (333,918) {-SiOH};
\node[lg, text=tred] at (297,901.5) {R816};
\node[lg, text=tred] at (335,901.5) {-SiC\textsubscript{16}H\textsubscript{33}};
\draw[line width=0.7pt, black!75, fill=white] (698,933) rectangle (797,894);
\node[lg, text=tblue] at (707,918) {A255};
\node[lg, text=tblue] at (747,918) {-SiOH};
\node[lg, text=tred] at (707,901.5) {R812};
\node[lg, text=tred] at (746,901.5) {-Si(Me)\textsubscript{3}};
\draw[line width=0.7pt, black!75, fill=white] (49,633) rectangle (273,577);
\node[lg, text=tblue] at (55,619) {200F};
\node[lg, text=tblue] at (87,619) {-SiOH};
\node[lg, text=tblue] at (155,619) {T\textsubscript{c} = 14.94 ± 0.08°C};
\node[lg, text=tred] at (55,601.3) {R816};
\node[lg, text=tred] at (87,601.3) {-SiC\textsubscript{16}H\textsubscript{33}};
\node[lg, text=tred] at (155,601.3) {T\textsubscript{c} = 14.99 ± 0.29°C};
\node[lg, text=tgreen] at (55,584) {No silica};
\node[lg, text=tgreen] at (155,584) {T\textsubscript{c} = 14.75 ± 0.21°C};
\draw[line width=0.7pt, black!75, fill=white] (455,633) rectangle (682,577);
\node[lg, text=tblue] at (462,619) {A255};
\node[lg, text=tblue] at (497,619) {-SiOH};
\node[lg, text=tblue] at (563,619) {T\textsubscript{c} = 15.25 ± 0.08°C};
\node[lg, text=tred] at (462,601.3) {R812};
\node[lg, text=tred] at (497,601.3) {-Si(Me)\textsubscript{3}};
\node[lg, text=tred] at (563,601.3) {T\textsubscript{c} = 14.00 ± 0.22°C};
\node[lg, text=tgreen] at (462,584) {No silica};
\node[lg, text=tgreen] at (563,584) {T\textsubscript{c} = 14.75 ± 0.21°C};
\draw[line width=0.7pt, black!75, fill=white] (49,308) rectangle (148,269);
\node[lg, text=tblue] at (53,293) {200F};
\node[lg, text=tblue] at (95,293) {-SiOH};
\node[lg, text=tred] at (53,276) {R816};
\node[lg, text=tred] at (95,276) {-SiC\textsubscript{16}H\textsubscript{33}};
\draw[line width=0.7pt, black!75, fill=white] (457,308) rectangle (555,269);
\node[lg, text=tblue] at (462,293) {A255};
\node[lg, text=tblue] at (503,293) {-SiOH};
\node[lg, text=tred] at (462,276) {R812};
\node[lg, text=tred] at (503,276) {-Si(Me)\textsubscript{3}};

% ---------- panel labels ----------
\tikzset{pl/.style={anchor=base west, font=\fontsize{14}{16}\selectfont, inner sep=0}}
\node[pl] at (12,974) {a)};
\node[pl] at (422,974) {b)};
\node[pl] at (12,625) {c)};
\node[pl] at (418,625) {d)};
\node[pl] at (12,300) {e)};
\node[pl] at (420,300) {f)};
\pgfresetboundingbox
\path[use as bounding box] (0,0) rectangle (815,987);
\end{tikzpicture}
\end{document}
